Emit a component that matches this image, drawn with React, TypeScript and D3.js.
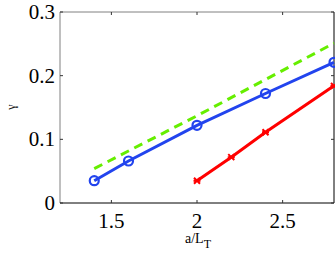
import React, { useRef, useEffect } from "react";
import * as d3 from "d3";

// Data
const blueX = [1.4, 1.6, 2.0, 2.4, 2.8];
const blueY = [0.035, 0.066, 0.122, 0.172, 0.221];
const redX = [2.0, 2.2, 2.4, 2.8];
const redY = [0.035, 0.072, 0.111, 0.184];
const greenX = [1.4, 2.0, 2.8];
const greenY = [0.054, 0.137, 0.251];
const xTicks = [1.5, 2, 2.5];
const yTicks = [0, 0.1, 0.2, 0.3];

const App = () => {
  const svgRef = useRef<SVGSVGElement>(null);

  useEffect(() => {
    const width = 335;
    const height = 255;
    const m = { left: 60, right: 1, top: 12, bottom: 52 };
    const w = width - m.left - m.right;
    const h = height - m.top - m.bottom;
    const font = "Liberation Serif";

    const svg = d3.select(svgRef.current).attr("width", width).attr("height", height);
    svg.selectAll("*").remove();

    const x = d3.scaleLinear().domain([1.2, 2.8]).range([0, w]);
    const y = d3.scaleLinear().domain([0, 0.3]).range([h, 0]);

    const g = svg.append("g").attr("transform", `translate(${m.left},${m.top})`);

    // Box: top/left gray, bottom/right black
    g.append("line").attr("x1", 0).attr("x2", w).attr("y1", 0).attr("y2", 0).attr("stroke", "#808080");
    g.append("line").attr("x1", 0).attr("x2", 0).attr("y1", 0).attr("y2", h).attr("stroke", "#808080");
    g.append("line").attr("x1", 0).attr("x2", w).attr("y1", h).attr("y2", h).attr("stroke", "#000");
    g.append("line").attr("x1", w).attr("x2", w).attr("y1", 0).attr("y2", h).attr("stroke", "#000");

    // Ticks (inward, mirrored)
    xTicks.forEach((t) => {
      g.append("line").attr("x1", x(t)).attr("x2", x(t)).attr("y1", h).attr("y2", h - 3).attr("stroke", "#333");
      g.append("line").attr("x1", x(t)).attr("x2", x(t)).attr("y1", 0).attr("y2", 3).attr("stroke", "#333");
      g.append("text")
        .attr("x", x(t))
        .attr("y", h + 25)
        .attr("text-anchor", "middle")
        .attr("font-family", font)
        .attr("font-size", 21)
        .text(String(t));
    });
    yTicks.forEach((t) => {
      g.append("line").attr("x1", 0).attr("x2", 3).attr("y1", y(t)).attr("y2", y(t)).attr("stroke", "#333");
      g.append("line").attr("x1", w).attr("x2", w - 3).attr("y1", y(t)).attr("y2", y(t)).attr("stroke", "#333");
      g.append("text")
        .attr("x", -5)
        .attr("y", y(t) + 7)
        .attr("text-anchor", "end")
        .attr("font-family", font)
        .attr("font-size", 21)
        .text(String(t));
    });

    // Axis labels
    svg
      .append("text")
      .attr("transform", "translate(15,107) rotate(-90)")
      .attr("text-anchor", "middle")
      .attr("font-family", font)
      .attr("font-size", 12)
      .text("γ");
    const xl = svg
      .append("text")
      .attr("x", 198)
      .attr("y", 243)
      .attr("text-anchor", "middle")
      .attr("font-family", font)
      .attr("font-size", 14);
    xl.append("tspan").text("a/L");
    xl.append("tspan").attr("dy", 5).attr("font-size", 12).text("T");

    const makeLine = (xs: number[], ys: number[]) =>
      d3
        .line<number>()
        .x((d) => x(d))
        .y((d, i) => y(ys[i]))(xs);

    // Green dashed
    g.append("path")
      .attr("d", makeLine(greenX, greenY))
      .attr("fill", "none")
      .attr("stroke", "#66ee00")
      .attr("stroke-width", 3)
      .attr("stroke-dasharray", "9,6");

    // Blue
    g.append("path")
      .attr("d", makeLine(blueX, blueY))
      .attr("fill", "none")
      .attr("stroke", "#2244ee")
      .attr("stroke-width", 3);
    blueX.forEach((d, i) => {
      g.append("circle")
        .attr("cx", x(d))
        .attr("cy", y(blueY[i]))
        .attr("r", 4.5)
        .attr("fill", "none")
        .attr("stroke", "#2244ee")
        .attr("stroke-width", 2.2);
    });

    // Red
    g.append("path")
      .attr("d", makeLine(redX, redY))
      .attr("fill", "none")
      .attr("stroke", "#ff0000")
      .attr("stroke-width", 3);
    redX.forEach((d, i) => {
      const cx = x(d);
      const cy = y(redY[i]);
      const s = 3;
      g.append("path")
        .attr("d", `M${cx - s},${cy - s}L${cx + s},${cy + s}M${cx - s},${cy + s}L${cx + s},${cy - s}M${cx - s - 0.5},${cy}L${cx + s + 0.5},${cy}`)
        .attr("stroke", "#ff0000")
        .attr("stroke-width", 2);
    });
  }, []);

  return (
    <div style={{ position: "absolute", left: 0, top: 0 }}>
      <svg ref={svgRef} />
    </div>
  );
};

export default App;
